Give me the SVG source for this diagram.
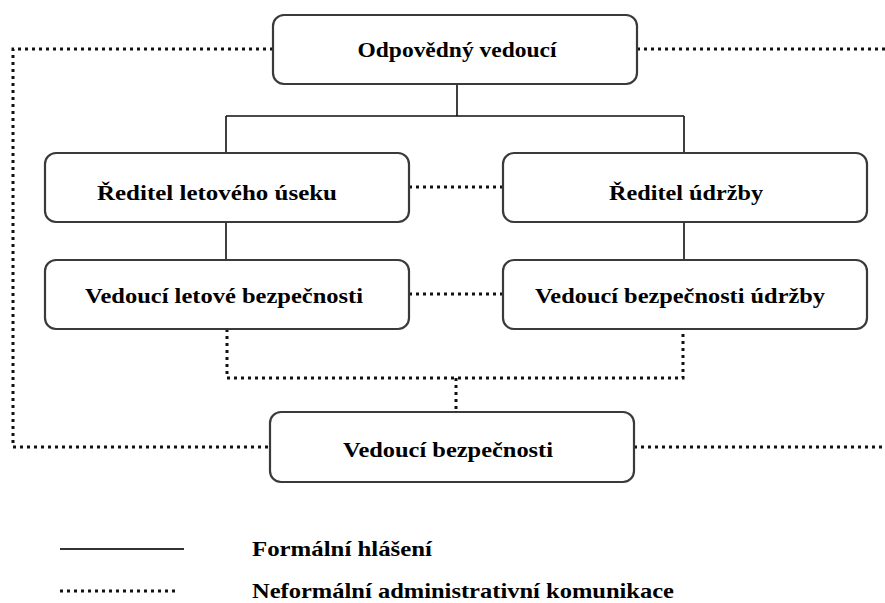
<svg xmlns="http://www.w3.org/2000/svg" width="885" height="603" viewBox="0 0 885 603">
  <style>
    .box { fill: #ffffff; stroke: #3a3a3a; stroke-width: 2.2; }
    .lbl { font-family: "Liberation Serif", "Times New Roman", serif; font-weight: bold; font-size: 22px; fill: #000; text-anchor: middle; }
    .leg { font-family: "Liberation Serif", "Times New Roman", serif; font-weight: bold; font-size: 21px; fill: #000; }
    .solid { fill: none; stroke: #111; stroke-width: 1.6; }
    .dot { fill: none; stroke: #111; stroke-width: 3; stroke-dasharray: 3 4; }
  </style>

  <!-- connectors -->
  <g id="connectors">
    <!-- formal reporting lines -->
    <path class="solid" d="M457 84 V116 M226 116 H684 M226 116 V153 M684 116 V153"/>
    <path class="solid" d="M226 222 V260 M684 222 V260"/>
    <!-- informal communication -->
    <path class="dot" d="M409 187 H503"/>
    <path class="dot" d="M409 294 H503"/>
    <path class="dot" d="M227 329 V378 H683 V329"/>
    <path class="dot" d="M456 378 V412"/>
    <path class="dot" d="M273 49 H13 V447 H270"/>
    <path class="dot" d="M637 49 H885"/>
    <path class="dot" d="M634 447 H885"/>
  </g>

  <g id="odpovedny-vedouci">
    <rect class="box" x="273" y="15" width="364" height="69" rx="11"/>
    <text class="lbl" x="457" y="57" textLength="199" lengthAdjust="spacingAndGlyphs">Odpovědný vedoucí</text>
  </g>

  <g id="reditel-letoveho-useku">
    <rect class="box" x="45" y="153" width="364" height="69" rx="11"/>
    <text class="lbl" x="217" y="200" textLength="240" lengthAdjust="spacingAndGlyphs">Ředitel letového úseku</text>
  </g>

  <g id="reditel-udrzby">
    <rect class="box" x="503" y="153" width="364" height="69" rx="11"/>
    <text class="lbl" x="686" y="200" textLength="154" lengthAdjust="spacingAndGlyphs">Ředitel údržby</text>
  </g>

  <g id="vedouci-letove-bezpecnosti">
    <rect class="box" x="45" y="260" width="364" height="69" rx="11"/>
    <text class="lbl" x="224" y="303" textLength="278" lengthAdjust="spacingAndGlyphs">Vedoucí letové bezpečnosti</text>
  </g>

  <g id="vedouci-bezpecnosti-udrzby">
    <rect class="box" x="503" y="260" width="364" height="69" rx="11"/>
    <text class="lbl" x="680" y="303" textLength="290" lengthAdjust="spacingAndGlyphs">Vedoucí bezpečnosti údržby</text>
  </g>

  <g id="vedouci-bezpecnosti">
    <rect class="box" x="270" y="412" width="364" height="70" rx="11"/>
    <text class="lbl" x="448" y="457" textLength="210" lengthAdjust="spacingAndGlyphs">Vedoucí bezpečnosti</text>
  </g>

  <!-- legend -->
  <g id="legend">
    <line x1="60" y1="549" x2="184" y2="549" stroke="#333" stroke-width="2"/>
    <text class="leg" x="252" y="556" textLength="180" lengthAdjust="spacingAndGlyphs">Formální hlášení</text>
    <line class="dot" x1="60" y1="591" x2="178" y2="591"/>
    <text class="leg" x="252" y="598" textLength="422" lengthAdjust="spacingAndGlyphs">Neformální administrativní komunikace</text>
  </g>
</svg>
